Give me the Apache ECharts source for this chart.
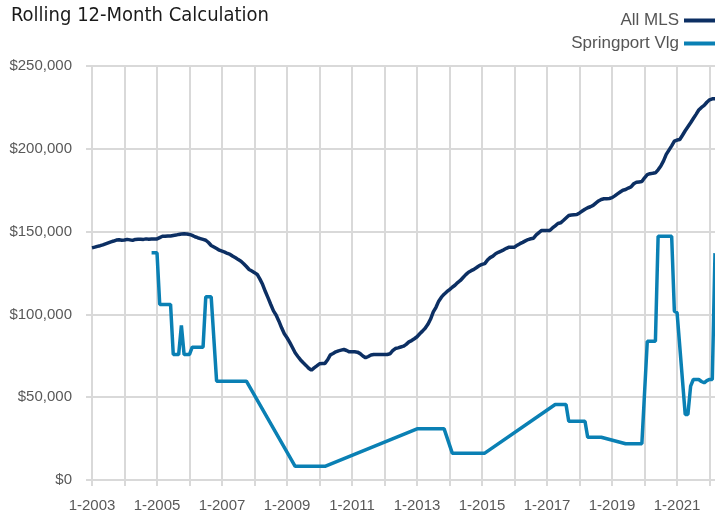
<!DOCTYPE html>
<html>
<head>
<meta charset="utf-8">
<script src="https://cdn.jsdelivr.net/npm/echarts@6/dist/echarts.min.js"></script>
<style>
  html, body { margin: 0; padding: 0; background: #fff; }
  #chart { width: 715px; height: 515px; }
</style>
</head>
<body>
<div id="chart"></div>
<script>
// monthly categories, 1-2003 .. 3-2022
var startYear = 2003;
var monthCount = 231;
var months = [];
for (var i = 0; i < monthCount; i++) {
  months.push((i % 12 + 1) + '-' + (startYear + Math.floor(i / 12)));
}

// All MLS, thousands of dollars, one row per year
var allMls = [].concat(
  [140.2, 140.6, 141.1, 141.5, 142.0, 142.6, 143.2, 143.8, 144.3, 144.9, 145.1, 144.8],
  [144.9, 145.3, 145.0, 144.7, 145.3, 145.4, 145.4, 145.3, 145.6, 145.4, 145.5, 145.5],
  [145.6, 146.4, 147.2, 147.2, 147.4, 147.3, 147.6, 147.9, 148.3, 148.6, 148.7, 148.6],
  [148.3, 147.7, 146.9, 146.3, 145.8, 145.3, 144.8, 143.4, 141.6, 140.7, 139.8, 138.8],
  [138.2, 137.6, 136.8, 136.2, 135.1, 134.2, 133.1, 132.1, 130.6, 128.9, 127.1, 126.2],
  [125.2, 124.1, 121.3, 118.0, 113.8, 110.0, 106.0, 102.1, 99.5, 95.9, 91.9, 88.3],
  [85.9, 83.1, 80.0, 76.8, 74.6, 72.5, 70.8, 69.2, 67.5, 66.3, 67.7, 68.9],
  [70.2, 70.4, 70.4, 72.6, 75.6, 76.4, 77.4, 78.0, 78.4, 78.8, 78.2, 77.4],
  [77.4, 77.4, 77.2, 76.3, 74.9, 73.8, 74.6, 75.5, 75.8, 75.8, 75.8, 75.8],
  [75.8, 75.8, 76.2, 78.1, 79.4, 79.8, 80.3, 80.8, 81.9, 83.4, 84.2, 85.3],
  [86.5, 88.3, 89.9, 91.6, 94.0, 97.2, 101.5, 104.3, 108.0, 110.4, 112.2, 113.7],
  [115.0, 116.4, 117.6, 119.2, 120.5, 122.3, 124.0, 125.5, 126.4, 127.2, 128.3, 129.5],
  [130.2, 130.7, 132.8, 134.3, 135.2, 136.6, 137.5, 138.2, 139.0, 139.9, 140.6, 140.6],
  [140.6, 141.8, 142.7, 143.5, 144.4, 145.2, 145.7, 146.0, 148.0, 149.4, 150.7, 150.7],
  [150.7, 150.7, 152.2, 153.5, 154.9, 155.3, 156.7, 158.2, 159.7, 160.0, 160.2, 160.3],
  [161.3, 162.4, 163.5, 164.4, 165.0, 165.8, 167.2, 168.5, 169.4, 169.8, 169.9, 170.0],
  [170.5, 171.6, 172.8, 173.9, 175.0, 175.4, 176.3, 177.0, 178.9, 179.8, 180.0, 180.2],
  [182.5, 184.4, 185.0, 185.2, 185.5, 187.3, 189.6, 192.7, 196.6, 199.2, 201.8, 204.6],
  [205.3, 205.6, 208.2, 210.9, 213.3, 215.7, 218.3, 220.8, 223.4, 225.0, 226.2, 228.1],
  [229.6, 230.2, 230.2]
);

// Springport Vlg, thousands of dollars, null = no value (line joins across)
var N = null;
var springport = [].concat(
  [N, N, N, N, N, N, N, N, N, N, N, N],
  [N, N, N, N, N, N, N, N, N, N, 137.2, 137.2],
  [137.2, 106.0, 106.0, 106.0, 106.0, 106.0, 75.8, 75.8, 75.8, 93.3, 75.8, 75.8],
  [75.8, 80.2, 80.2, 80.2, 80.2, 80.2, 110.6, 110.6, 110.6, N, 59.7, 59.7],
  [59.7, 59.7, 59.7, 59.7, 59.7, 59.7, 59.7, 59.7, 59.7, 59.7, N, N],
  [N, N, N, N, N, N, N, N, N, N, N, N],
  [N, N, N, 8.3, 8.3, 8.3, 8.3, 8.3, 8.3, 8.3, 8.3, 8.3],
  [8.3, 8.3, 8.3, N, N, N, N, N, N, N, N, N],
  [N, N, N, N, N, N, N, N, N, N, N, N],
  [N, N, N, N, N, N, N, N, N, N, N, N],
  [30.9, 30.9, 30.9, 30.9, 30.9, 30.9, 30.9, 30.9, 30.9, 30.9, 30.9, N],
  [N, 16.2, 16.2, 16.2, 16.2, 16.2, 16.2, 16.2, 16.2, 16.2, 16.2, 16.2],
  [16.2, 16.2, N, N, N, N, N, N, N, N, N, N],
  [N, N, N, N, N, N, N, N, N, N, N, N],
  [N, N, N, 45.6, 45.6, 45.6, 45.6, 45.6, 35.5, 35.5, 35.5, 35.5],
  [35.5, 35.5, 35.5, 25.8, 25.8, 25.8, 25.8, 25.8, 25.8, N, N, N],
  [N, N, N, N, N, 21.9, 21.9, 21.9, 21.9, 21.9, 21.9, 21.9],
  [N, 83.8, 83.8, 83.8, 83.8, 147.2, 147.2, 147.2, 147.2, 147.2, 147.2, 101.9],
  [101.0, N, N, 39.6, 39.6, 56.7, 60.7, 60.7, 60.7, 59.5, 58.7, 60.0],
  [60.7, 60.7, 137.0]
);

function toDollars(arr) {
  return arr.map(function (v) { return v === null ? null : Math.round(v * 1000); });
}

var chart = echarts.init(document.getElementById('chart'));

var yearTick = function (idx) { return idx % 12 === 0; };

chart.setOption({
  animation: false,
  title: {
    text: 'Rolling 12-Month Calculation',
    left: 6,
    top: 1,
    textStyle: {
      fontFamily: '"DejaVu Sans Condensed", Roboto, sans-serif',
      fontSize: 20,
      fontWeight: 'normal',
      color: '#1a1a1a'
    }
  },
  legend: {
    orient: 'vertical',
    right: -6,
    top: 7,
    align: 'right',
    icon: 'rect',
    itemWidth: 32,
    itemHeight: 4,
    itemGap: 6,
    textStyle: {
      fontFamily: 'Liberation Sans',
      fontSize: 17,
      color: '#555555'
    },
    data: ['All MLS', 'Springport Vlg']
  },
  grid: {
    left: 92,
    right: 0,
    top: 66,
    bottom: 35,
    containLabel: false
  },
  xAxis: {
    type: 'category',
    data: months,
    boundaryGap: false,
    axisLine: { show: false },
    axisTick: {
      show: true,
      length: 6,
      interval: yearTick,
      lineStyle: { color: '#d9d9d9', width: 2 }
    },
    axisLabel: {
      interval: function (idx) { return idx % 24 === 0; },
      margin: 18,
      fontFamily: 'Liberation Sans',
      fontSize: 15,
      color: '#595959'
    },
    splitLine: {
      show: true,
      interval: yearTick,
      lineStyle: { color: '#d9d9d9', width: 2 }
    }
  },
  yAxis: {
    type: 'value',
    min: 0,
    max: 250000,
    interval: 50000,
    axisLine: { show: false },
    axisTick: {
      show: true,
      length: 6,
      lineStyle: { color: '#d9d9d9', width: 2 }
    },
    axisLabel: {
      margin: 20,
      fontFamily: 'Liberation Sans',
      fontSize: 15,
      color: '#595959',
      formatter: function (v) { return '$' + v.toLocaleString('en-US'); }
    },
    splitLine: {
      lineStyle: { color: '#d9d9d9', width: 2 }
    }
  },
  series: [
    {
      name: 'All MLS',
      type: 'line',
      data: toDollars(allMls),
      symbol: 'none',
      lineStyle: { width: 3.5, color: '#0c2f63' },
      itemStyle: { color: '#0c2f63' },
      z: 3
    },
    {
      name: 'Springport Vlg',
      type: 'line',
      data: toDollars(springport),
      connectNulls: true,
      symbol: 'none',
      lineStyle: { width: 3.5, color: '#0a80b4' },
      itemStyle: { color: '#0a80b4' },
      z: 2
    }
  ]
});
</script>
</body>
</html>
